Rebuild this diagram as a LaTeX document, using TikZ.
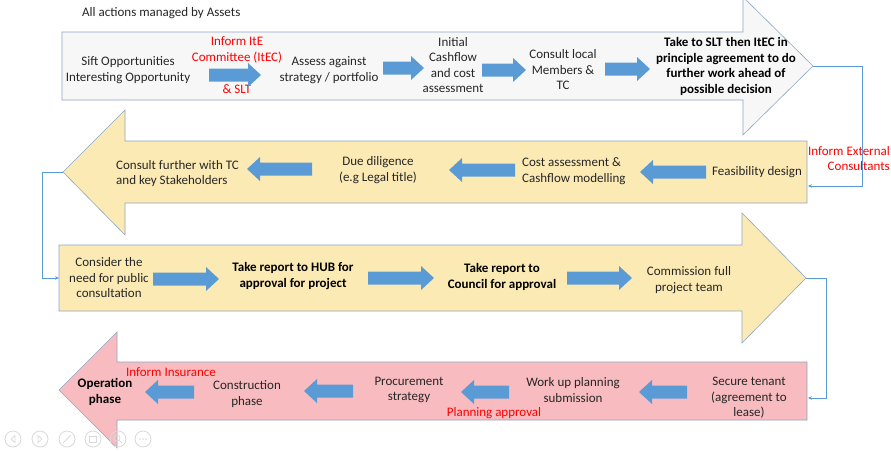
\documentclass[tikz,border=0pt]{standalone}
\usepackage{fontspec}
\setmainfont{Carlito}
\usepackage{tikz}
\usetikzlibrary{arrows.meta, positioning, calc}

\definecolor{flowblue}{HTML}{5B9BD5}
\definecolor{edgeblue}{HTML}{8EA6C4}
\definecolor{palegrey}{HTML}{F7F7F7}
\definecolor{paleyellow}{HTML}{FCEAB4}
\definecolor{palepink}{HTML}{F8BCC0}
\definecolor{textgrey}{HTML}{262626}
\definecolor{informred}{HTML}{FF0000}
\definecolor{controlgrey}{HTML}{D9D9D9}

\tikzset{
  bigarrow/.style={draw=edgeblue, line width=0.6pt, line join=miter},
  stagetext/.style={align=center, text=textgrey, font=\fontsize{13}{15.5}\selectfont, inner sep=0pt},
  boldtext/.style={stagetext, font=\fontsize{13}{15.5}\selectfont\bfseries, text=black},
  informtext/.style={stagetext, text=informred},
  linkline/.style={flowblue, line width=0.6pt, -{Stealth[length=4pt,width=3.5pt]}},
}

% small block arrows between the steps: tail x, tip x, centre y
\newcommand{\rightstep}[3]{\fill[flowblue] (#1,#3-6.5) -- (#2-13,#3-6.5) -- (#2-13,#3-12) -- (#2,#3) -- (#2-13,#3+12) -- (#2-13,#3+6.5) -- (#1,#3+6.5) -- cycle;}
% tip x, tail x, centre y
\newcommand{\leftstep}[3]{\fill[flowblue] (#2,#3-6.5) -- (#1+13,#3-6.5) -- (#1+13,#3-12) -- (#1,#3) -- (#1+13,#3+12) -- (#1+13,#3+6.5) -- (#2,#3+6.5) -- cycle;}

\begin{document}
\begin{tikzpicture}[x=1pt, y=-1pt]
  \useasboundingbox (0,0) rectangle (891,450);
  \clip (0,0) rectangle (891,450);

  % the four big arrows
  \draw[bigarrow, fill=palegrey] (62,32) -- (743,32) -- (743,-3) -- (813,66) -- (743,135) -- (743,100) -- (62,100) -- cycle;
  \draw[bigarrow, fill=paleyellow] (807,141) -- (125,141) -- (125,110) -- (63,172) -- (125,235) -- (125,203) -- (807,203) -- cycle;
  \draw[bigarrow, fill=paleyellow] (59,245) -- (742,245) -- (742,213) -- (806,278) -- (742,343) -- (742,311) -- (59,311) -- cycle;
  \draw[bigarrow, fill=palepink] (807,362) -- (117,362) -- (117,332) -- (59,390) -- (117,448) -- (117,420) -- (807,420) -- cycle;

  \coordinate (tipA) at (813,66);
  \coordinate (tipB) at (63,172);
  \coordinate (tipC) at (806,278);
  \coordinate (inB) at (808,186);
  \coordinate (inC) at (59,278);
  \coordinate (inD) at (808,398);

  % row 1
  \node[stagetext, anchor=west] (header) at (82,13) {All actions managed by Assets};
  \node[stagetext] (sift) at (128,70) {Sift Opportunities\\Interesting Opportunity};
  \node[informtext] (itec) at (237,50) {Inform ItE\\Committee (ItEC)};
  \node[informtext] (slt) at (237,89) {\& SLT};
  \node[stagetext] (assess) at (329,70) {Assess against\\strategy / portfolio};
  \node[stagetext] (initial) at (453,65) {Initial\\Cashflow\\and cost\\assessment};
  \node[stagetext] (members) at (563,70) {Consult local\\Members \&\\TC};
  \node[boldtext] (principle) at (726,66.5) {Take to SLT then ItEC in\\principle agreement to do\\further work ahead of\\possible decision};
  \rightstep{209}{261}{75}
  \rightstep{383}{424}{68}
  \rightstep{482}{526}{70}
  \rightstep{605}{650}{69}

  % row 2
  \node[stagetext, align=left, anchor=west] (stakeholders) at (116,173.5) {Consult further with TC\\and key Stakeholders};
  \node[stagetext] (diligence) at (378,170) {Due diligence\\(e.g Legal title)};
  \node[stagetext, align=left, anchor=west] (costing) at (522,171) {Cost assessment \&\\Cashflow modelling};
  \node[stagetext] (feasibility) at (757,172) {Feasibility design};
  \node[informtext, align=right, anchor=east] (external) at (890,158.5) {Inform External\\Consultants};
  \leftstep{247}{312}{169}
  \leftstep{449}{515}{170}
  \leftstep{640}{706}{172}

  % row 3
  \node[stagetext] (consult) at (109,278) {Consider the\\need for public\\consultation};
  \node[boldtext] (hub) at (293,276) {Take report to HUB for\\approval for project};
  \node[boldtext] (council) at (502,277) {Take report to\\Council for approval};
  \node[stagetext] (team) at (689,280) {Commission full\\project team};
  \rightstep{153}{219}{279}
  \rightstep{368}{434}{278}
  \rightstep{567}{632}{278}

  % row 4
  \node[boldtext] (operation) at (105,392) {Operation\\phase};
  \node[informtext] (insurance) at (171,372) {Inform Insurance};
  \node[stagetext] (construction) at (247,394) {Construction\\phase};
  \node[stagetext] (procurement) at (409,390) {Procurement\\strategy};
  \node[informtext] (planapproval) at (494,413) {Planning approval};
  \node[stagetext] (planning) at (573,390) {Work up planning\\submission};
  \node[stagetext] (tenant) at (749,398) {Secure tenant\\(agreement to\\lease)};
  \leftstep{145}{194}{392}
  \leftstep{304}{353}{391}
  \leftstep{461}{509}{392}
  \leftstep{639}{687}{392}

  % links between the rows
  \draw[linkline] (tipA) -- ++(49,0) |- (inB);
  \draw[linkline] (tipB) -- ++(-21,0) |- (inC);
  \draw[linkline] (tipC) -- ++(20,0) |- (inD);

  % slide controls
  \foreach \cx in {13,40,67,93,118,143}
    \draw[controlgrey, line width=0.8pt] (\cx,439) circle (8);
  \draw[controlgrey, line width=0.7pt] (15,435.5) -- (11,439) -- (15,442.5) -- cycle;
  \draw[controlgrey, line width=0.7pt] (38,435.5) -- (42,439) -- (38,442.5) -- cycle;
  \draw[controlgrey, line width=0.9pt] (63,443) -- (71,435);
  \draw[controlgrey, line width=0.7pt] (89.5,436) rectangle (96.5,442);
  \draw[controlgrey, line width=0.7pt] (117,438) circle (3) (119,440) -- (122,443);
  \foreach \dx in {-3,0,3}
    \fill[controlgrey] (143+\dx,439) circle (0.9);
\end{tikzpicture}
\end{document}
